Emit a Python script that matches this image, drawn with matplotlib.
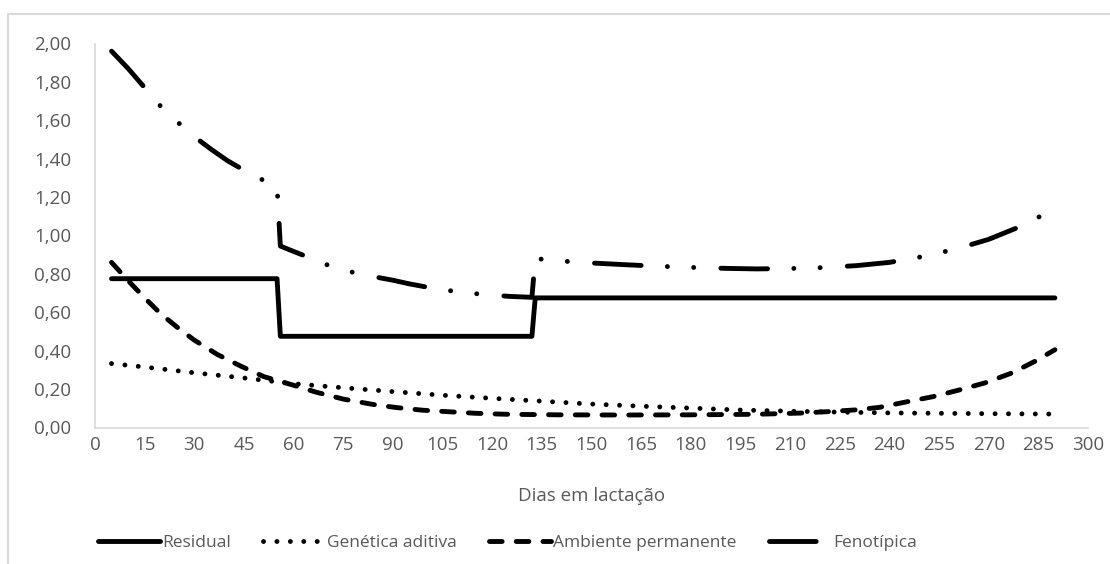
import matplotlib
matplotlib.use("Agg")
import matplotlib.pyplot as plt
from matplotlib.patches import Rectangle
from matplotlib.ticker import FuncFormatter, MultipleLocator

# ---- data ----
res_days = [5, 55, 56, 132, 133, 290]
res_vals = [0.775, 0.775, 0.475, 0.475, 0.675, 0.675]

add_days = [5, 15, 30, 45, 60, 75, 90, 105, 120, 135, 150, 165, 180, 195, 210, 225, 240, 255, 270, 290]
add_vals = [0.333, 0.315, 0.285, 0.258, 0.228, 0.207, 0.187, 0.168, 0.152, 0.137, 0.122, 0.111,
            0.101, 0.091, 0.085, 0.080, 0.076, 0.074, 0.072, 0.070]

perm_days = [5, 10, 15, 20, 25, 30, 37, 44, 51, 60, 67, 75, 84, 91, 99, 107, 115, 124, 140, 160,
             180, 200, 213, 222, 230, 237, 245, 253, 261, 269, 277, 284, 290]
perm_vals = [0.86, 0.765, 0.675, 0.59, 0.52, 0.455, 0.38, 0.32, 0.265, 0.22, 0.183, 0.148, 0.12,
             0.104, 0.09, 0.082, 0.074, 0.069, 0.066, 0.065, 0.066, 0.069, 0.075, 0.083, 0.092,
             0.105, 0.133, 0.16, 0.195, 0.233, 0.284, 0.345, 0.405]

fen_days = [5, 10, 15, 20, 25, 30, 35, 40, 45, 50, 55, 56, 60, 65, 70, 75, 80, 85, 90, 95, 100,
            105, 110, 115, 120, 125, 132, 133, 140, 150, 160, 170, 180, 190, 200, 210, 220, 230,
            240, 250, 260, 270, 280, 290]
fen_vals = [1.96, 1.87, 1.77, 1.67, 1.59, 1.515, 1.45, 1.39, 1.34, 1.295, 1.255, 0.945, 0.917,
            0.883, 0.848, 0.82, 0.80, 0.783, 0.767, 0.748, 0.732, 0.718, 0.706, 0.697, 0.69,
            0.683, 0.678, 0.88, 0.868, 0.857, 0.848, 0.84, 0.834, 0.829, 0.826, 0.828, 0.833,
            0.843, 0.86, 0.89, 0.929, 0.98, 1.05, 1.14]

labels = ["Residual", "Genética aditiva", "Ambiente permanente", "Fenotípica"]
x_label = "Dias em lactação"

# ---- figure ----
W, H = 1110, 564
fig = plt.figure(figsize=(W / 100, H / 100), dpi=100)
plt.rcParams['font.family'] = ['Open Sans', 'DejaVu Sans']
TXT = '#595959'
GRID = '#D9D9D9'
FS = 13.5

ax = fig.add_axes([95 / W, 1 - 427.5 / H, (1088 - 95) / W, (427.5 - 43.5) / H])

lw = 3.5
ax.plot(res_days, res_vals, color='black', lw=lw, solid_capstyle='round',
        solid_joinstyle='round', label=labels[0])
ax.plot(add_days, add_vals, color='black', lw=lw, linestyle=(0, (0.01, 2.75)),
        dash_capstyle='round', label=labels[1])
ax.plot(perm_days, perm_vals, color='black', lw=lw, linestyle=(0, (2.6, 2.9)),
        dash_capstyle='round', dash_joinstyle='round', label=labels[2])
ax.plot(fen_days, fen_vals, color='black', lw=lw,
        linestyle=(0, (9.6, 5.4, 0.01, 5.4, 0.01, 5.6)),
        dash_capstyle='round', dash_joinstyle='round', label=labels[3])

ax.set_xlim(0, 300)
ax.set_ylim(0, 2.0)
ax.xaxis.set_major_locator(MultipleLocator(15))
ax.yaxis.set_major_locator(MultipleLocator(0.2))
ax.yaxis.set_major_formatter(FuncFormatter(lambda v, p: f"{v:.2f}".replace('.', ',')))

for s in ['top', 'right']:
    ax.spines[s].set_visible(False)
for s in ['left', 'bottom']:
    ax.spines[s].set_color(GRID)
    ax.spines[s].set_linewidth(1.2)
ax.tick_params(axis='both', length=0, labelsize=FS, labelcolor=TXT)
ax.tick_params(axis='y', pad=17)
ax.tick_params(axis='x', pad=6)

ax.set_xlabel(x_label, fontsize=FS, color=TXT, labelpad=24)

handles, labs = ax.get_legend_handles_labels()
fig.legend(handles, labs, loc='center left', bbox_to_anchor=(82 / W, 1 - 543 / H), ncol=4,
           frameon=False, fontsize=12.5, labelcolor=TXT, handlelength=3.6,
           handletextpad=0.1, columnspacing=1.85)

fig.add_artist(Rectangle((8 / W, -0.2), 1.2, 1.2 - 14 / H,
                         transform=fig.transFigure, fill=False, edgecolor=GRID, lw=1.5))

fig.savefig("out.png", dpi=100)
